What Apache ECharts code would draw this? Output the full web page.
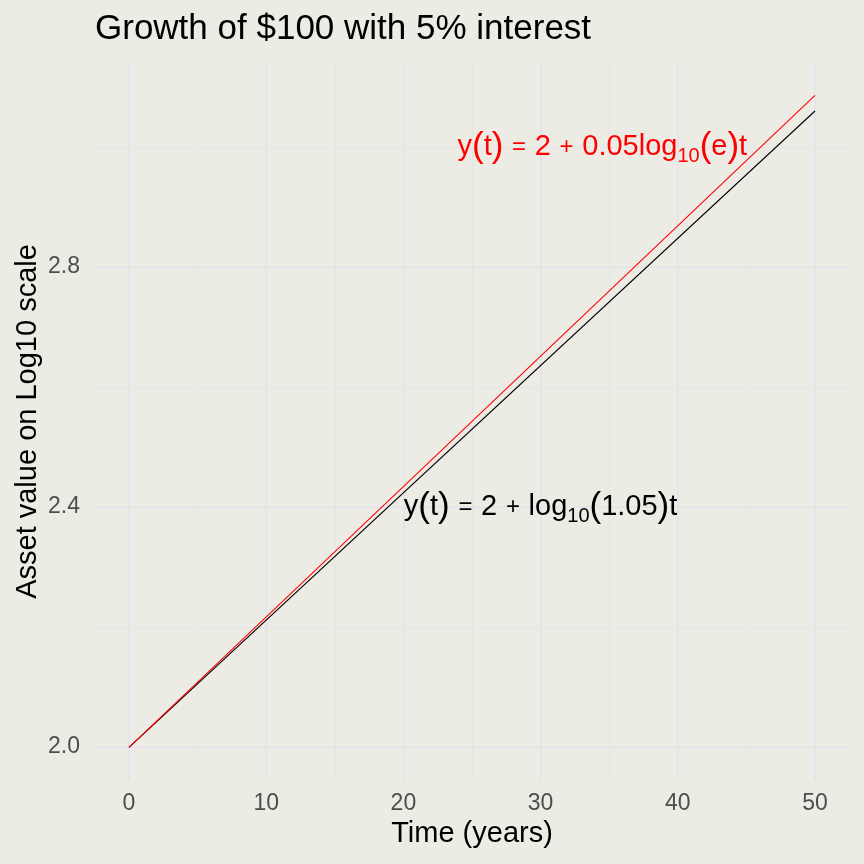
<!DOCTYPE html>
<html>
<head>
<meta charset="utf-8">
<script src="https://cdn.jsdelivr.net/npm/echarts@6/dist/echarts.min.js"></script>
<style>
  html, body { margin: 0; padding: 0; background: #ECECE4; }
  #main { width: 864px; height: 864px; }
</style>
</head>
<body>
<div id="main"></div>
<script>
// values (straight lines, so the two ends are enough)
var years      = [0, 50];
var compound   = [2.0, 3.06];   // black: 2 + log10(1.05) t
var continuous = [2.0, 3.086];  // red:   2 + 0.05 log10(e) t
var xTicks     = [0, 10, 20, 30, 40, 50];
var yTicks     = [2.0, 2.4, 2.8];

// where the two formula labels sit, in data units
var noteBlack = [30, 2.4];
var noteRed   = [34.5, 3.0];

var font = "'Liberation Sans', Arial, Helvetica, sans-serif";
var gridColor = '#E4E4EA';

function pairs(xs, ys) {
    var out = [];
    for (var i = 0; i < xs.length; i++) out.push([xs[i], ys[i]]);
    return out;
}

function mathLabel(color) {
    return {
        show: true,
        position: 'inside',
        align: 'center',
        verticalAlign: 'middle',
        color: color,
        opacity: 1,
        fontFamily: font,
        rich: {
            n: { fontSize: 29, color: color, fontFamily: font },
            e: { fontSize: 24, color: color, fontFamily: font, padding: [0, 2, 0, 2] },
            p: { fontSize: 35, color: color, fontFamily: font },
            s: { fontSize: 20, color: color, fontFamily: font, padding: [18, 0, 0, 0] }
        }
    };
}

var myChart = echarts.init(document.getElementById('main'));
var option = {
    backgroundColor: '#ECECE4',
    animation: false,
    title: {
        text: 'Growth of $100 with 5% interest',
        left: 95,
        top: 12,
        padding: 0,
        textStyle: {
            color: '#000',
            fontFamily: font,
            fontWeight: 'normal',
            fontSize: 35
        }
    },
    grid: [
        // data panel + vertical grid lines
        { left: 129, right: 49, top: 63, bottom: 84, containLabel: false },
        // horizontal grid lines across the whole panel
        { left: 95, right: 15, top: 27, bottom: 117, containLabel: false }
    ],
    xAxis: [
        {
            gridIndex: 0,
            type: 'value',
            min: 0,
            max: 50,
            interval: 10,
            name: 'Time (years)',
            nameLocation: 'middle',
            nameGap: 36,
            nameTextStyle: { color: '#000', fontSize: 29, fontFamily: font },
            axisLine: { show: false },
            axisTick: { show: false },
            minorTick: { show: false, splitNumber: 2 },
            axisLabel: {
                color: '#4D4D4D',
                fontSize: 23,
                fontFamily: font,
                margin: 12,
                formatter: function (v) { return xTicks.indexOf(v) >= 0 ? String(v) : ''; }
            },
            splitLine: { show: true, lineStyle: { color: gridColor, width: 2 } },
            minorSplitLine: { show: true, lineStyle: { color: gridColor, width: 1 } }
        },
        {
            gridIndex: 1,
            type: 'value',
            min: 0,
            max: 1,
            show: false
        }
    ],
    yAxis: [
        {
            gridIndex: 0,
            type: 'value',
            min: 1.9457,
            max: 3.14,
            name: 'Asset value on Log10 scale',
            nameLocation: 'middle',
            nameGap: 87,
            nameTextStyle: { color: '#000', fontSize: 29, fontFamily: font },
            axisLine: { show: false },
            axisTick: { show: false },
            axisLabel: { show: false },
            splitLine: { show: false }
        },
        {
            gridIndex: 1,
            type: 'value',
            min: 2.0,
            max: 3.2,
            interval: 0.4,
            axisLine: { show: false },
            axisTick: { show: false },
            minorTick: { show: false, splitNumber: 2 },
            axisLabel: {
                color: '#4D4D4D',
                fontSize: 23,
                fontFamily: font,
                margin: 15,
                showMaxLabel: false,
                formatter: function (v) {
                    for (var i = 0; i < yTicks.length; i++) {
                        if (Math.abs(yTicks[i] - v) < 1e-6) return v.toFixed(1);
                    }
                    return '';
                }
            },
            splitLine: { show: true, showMaxLine: false, lineStyle: { color: gridColor, width: 2 } },
            minorSplitLine: { show: true, lineStyle: { color: gridColor, width: 1 } }
        }
    ],
    series: [
        {
            name: 'compound',
            type: 'line',
            xAxisIndex: 0,
            yAxisIndex: 0,
            data: pairs(years, compound),
            symbol: 'none',
            lineStyle: { color: '#000000', width: 1.1 },
            z: 3
        },
        {
            name: 'continuous',
            type: 'line',
            xAxisIndex: 0,
            yAxisIndex: 0,
            data: pairs(years, continuous),
            symbol: 'none',
            lineStyle: { color: '#FF0000', width: 1.1 },
            z: 4
        },
        {
            name: 'notes',
            type: 'scatter',
            xAxisIndex: 0,
            yAxisIndex: 0,
            symbolSize: 0,
            silent: true,
            itemStyle: { opacity: 1 },
            z: 5,
            data: [
                {
                    value: noteBlack,
                    label: Object.assign(mathLabel('#000000'), {
                        formatter: '{n|y}{p|(}{n|t}{p|)}{e| = }{n|2}{e| + }{n|log}{s|10}{p|(}{n|1.05}{p|)}{n|t}'
                    })
                },
                {
                    value: noteRed,
                    label: Object.assign(mathLabel('#FF0000'), {
                        formatter: '{n|y}{p|(}{n|t}{p|)}{e| = }{n|2}{e| + }{n|0.05log}{s|10}{p|(}{n|e}{p|)}{n|t}'
                    })
                }
            ]
        }
    ]
};
myChart.setOption(option);
</script>
</body>
</html>
